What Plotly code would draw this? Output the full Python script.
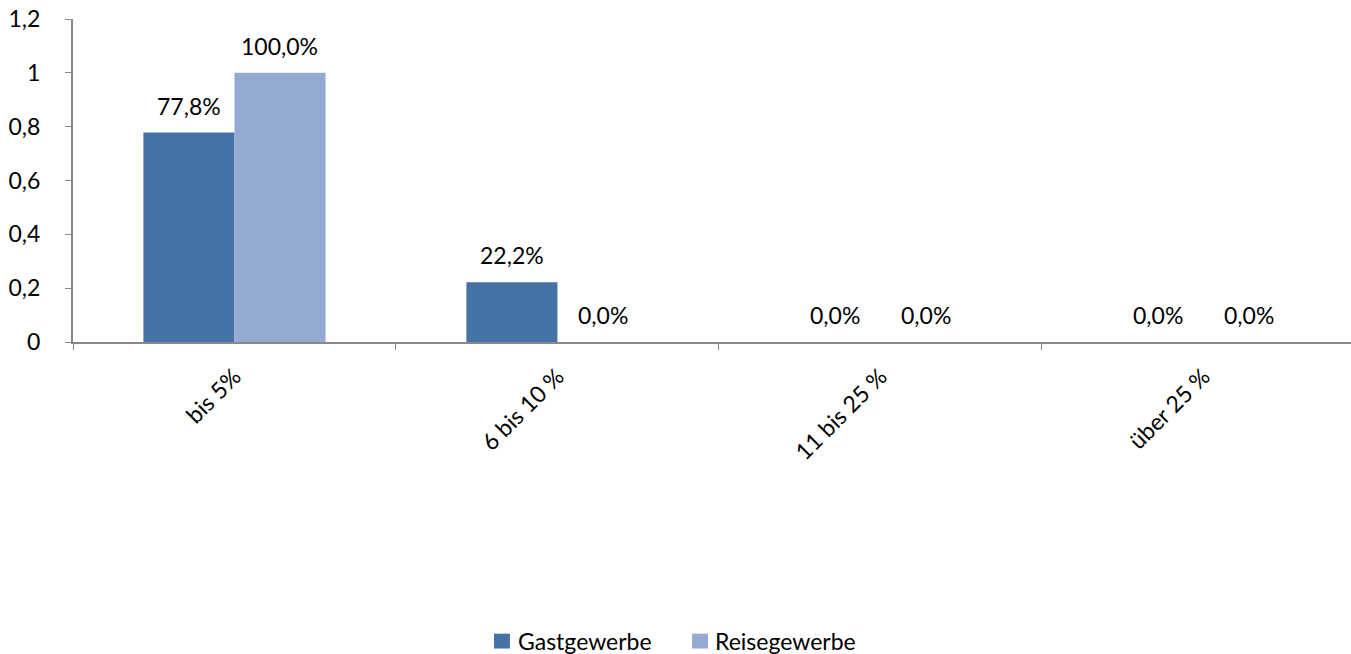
import plotly.graph_objects as go

# Kategorien und Anteile (als Bruchteil)
categories = ["bis 5%", "6 bis 10 %", "11 bis 25 %", "über 25 %"]
gastgewerbe = [0.778, 0.222, 0.0, 0.0]
reisegewerbe = [1.0, 0.0, 0.0, 0.0]
series_names = ["Gastgewerbe", "Reisegewerbe"]
colors = ["#4573A7", "#94AAD2"]

font_family = "Lato, 'Open Sans', sans-serif"
axis_color = "#888888"
fsize = 23

fig = go.Figure()
for name, vals, col in zip(series_names, [gastgewerbe, reisegewerbe], colors):
    fig.add_trace(go.Bar(x=categories, y=vals, name=name, marker_color=col,
                         marker_line_width=0, showlegend=False))

# Datenbeschriftungen über den Balken
bar_shift = 45.5
annotations = []
for i, vals in enumerate([gastgewerbe, reisegewerbe]):
    for cat, v in zip(categories, vals):
        annotations.append(dict(
            x=cat, y=v, xref="x", yref="y",
            text=f"{v * 100:.1f}%".replace(".", ","),
            showarrow=False, yanchor="bottom", yshift=11,
            xshift=-bar_shift if i == 0 else bar_shift,
            font=dict(size=fsize, color="#000000", family=font_family)))

# Legende (Kästchen + Text) unter dem Diagramm
shapes = []
legend_pos = [(0.3294, 0.3466), (0.4844, 0.5008)]
for (sq_x, txt_x), name, col in zip(legend_pos, series_names, colors):
    shapes.append(dict(type="rect", xref="paper", yref="paper",
                       x0=sq_x, x1=sq_x + 0.0125, y0=-0.949, y1=-0.903,
                       fillcolor=col, line_width=0))
    annotations.append(dict(x=txt_x, y=-0.926, xref="paper", yref="paper",
                            text=name, showarrow=False, xanchor="left", yanchor="middle",
                            font=dict(size=fsize, color="#000000", family=font_family)))

fig.update_layout(
    width=1351, height=654,
    margin=dict(l=73, r=0, t=19, b=312, autoexpand=False),
    plot_bgcolor="white", paper_bgcolor="white",
    font=dict(family=font_family, size=fsize, color="#000000"),
    separators=",.",
    barmode="group", bargap=0.436, bargroupgap=0,
    annotations=annotations, shapes=shapes,
    showlegend=False,
    xaxis=dict(range=[-0.5, 3.457], tickson="boundaries", ticks="outside", ticklen=6,
               tickcolor=axis_color, showline=True, linecolor=axis_color, linewidth=2,
               tickangle=-45, showgrid=False, zeroline=False, automargin=False,
               ticklabelstandoff=10),
    yaxis=dict(range=[0, 1.2001], dtick=0.2, ticks="outside", ticklen=6, tickcolor=axis_color,
               showline=True, linecolor=axis_color, linewidth=2, showgrid=False,
               zeroline=False, automargin=False, ticklabelstandoff=20,
               ticklabeloverflow="allow"),
)

# no default body margin, so the figure fills the window exactly
fig.write_html("out.html", config={"displayModeBar": False},
               post_script="document.body.style.margin='0';document.body.style.overflow='hidden';")
